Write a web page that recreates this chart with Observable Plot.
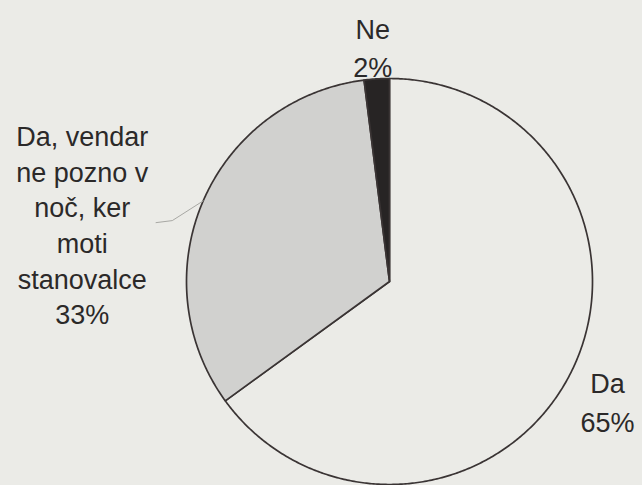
<!DOCTYPE html>
<html>
<head>
<meta charset="utf-8">
<script src="https://cdn.jsdelivr.net/npm/d3@7"></script>
<script src="https://cdn.jsdelivr.net/npm/@observablehq/plot@0.6"></script>
<style>
  html, body { margin: 0; padding: 0; background: #ebebe7; }
  #chart svg { display: block; background: #ebebe7; }
</style>
</head>
<body>
<div id="chart"></div>
<script>
// Data
const categories = ["Da", "Da, vendar ne pozno v noč, ker moti stanovalce", "Ne"];
const values = [65, 33, 2];
const labelLines = [
  ["Da", "65%"],
  ["Da, vendar", "ne pozno v", "noč, ker", "moti", "stanovalce", "33%"],
  ["Ne", "2%"]
];

// Styles / layout
const fills = ["#ebebe7", "#d1d1cf", "#272424"];
const labelLayout = [
  {r: 1.2, dx: 1, dy: 8, lineHeight: 1.44},
  {r: 1.0, dx: -121, dy: 23, lineHeight: 1.32},
  {r: 1.16, dx: -2, dy: -1, lineHeight: 1.44}
];

const arcs = d3.pie().sort(null).value(d => d)(values);

// polygon points for each slice (unit circle, angle clockwise from 12 o'clock)
const slicePts = arcs.map((a, i) => {
  const pts = [{x: 0, y: 0, k: i}];
  const n = Math.max(2, Math.ceil((a.endAngle - a.startAngle) / (Math.PI / 360)));
  for (let j = 0; j <= n; j++) {
    const t = a.startAngle + (a.endAngle - a.startAngle) * j / n;
    pts.push({x: Math.sin(t), y: Math.cos(t), k: i});
  }
  pts.push({x: 0, y: 0, k: i});
  return pts;
});

const labelData = arcs.map((a, i) => {
  const m = (a.startAngle + a.endAngle) / 2;
  const L = labelLayout[i];
  return {x: L.r * Math.sin(m), y: L.r * Math.cos(m), text: labelLines[i].join("\n"), i};
});

// leader line for the grey slice
const gm = (arcs[1].startAngle + arcs[1].endAngle) / 2;
const leader = [
  {x: Math.sin(gm) * 1.0, y: Math.cos(gm) * 1.0},
  {x: -1.07, y: 0.30},
  {x: -1.15, y: 0.29}
];

const marks = [];
slicePts.forEach((pts, i) => {
  marks.push(Plot.line(pts, {x: "x", y: "y", fill: fills[i], stroke: "#3a3434", strokeWidth: 1.7, curve: "linear", strokeLinejoin: "round"}));
});
marks.push(Plot.line(leader, {x: "x", y: "y", stroke: "#a8a8a4", strokeWidth: 1}));
labelData.forEach((d, i) => {
  const L = labelLayout[i];
  marks.push(Plot.text([d], {
    x: "x", y: "y", text: "text",
    dx: L.dx, dy: L.dy, lineHeight: L.lineHeight,
    fontSize: 27, fill: "#2b2929", textAnchor: "middle",
    fontFamily: "Liberation Sans, Arial, sans-serif"
  }));
});

const chart = Plot.plot({
  width: 642,
  height: 485,
  marginLeft: 186,
  marginRight: 50,
  marginTop: 78,
  marginBottom: 1,
  x: {domain: [-1, 1], axis: null},
  y: {domain: [-1, 1], axis: null},
  style: {background: "#ebebe7", overflow: "visible"},
  marks
});
document.getElementById("chart").appendChild(chart);
</script>
</body>
</html>
